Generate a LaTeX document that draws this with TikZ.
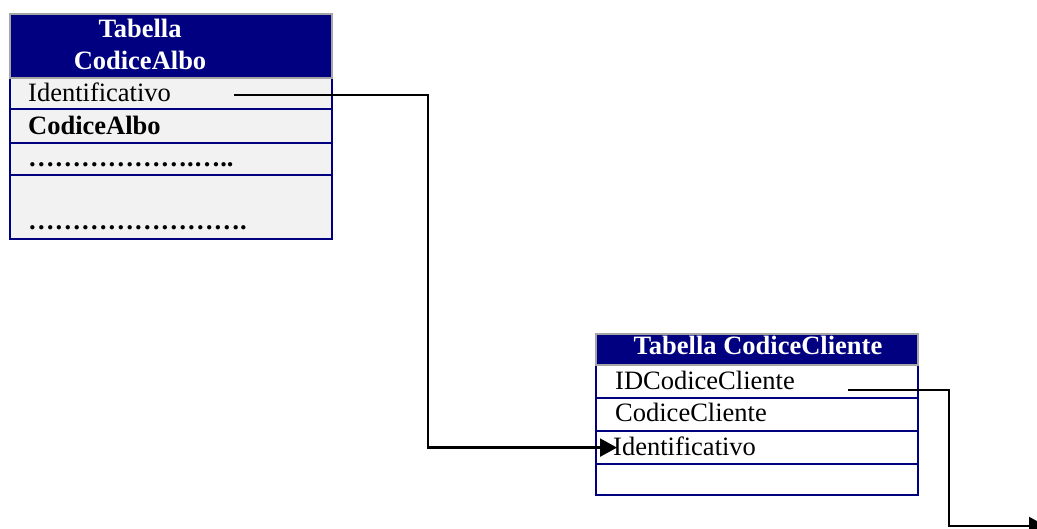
\documentclass[tikz,border=0pt]{standalone}
\usepackage{fontspec}
\setmainfont{Liberation Serif}
\usetikzlibrary{calc,arrows.meta}
\definecolor{navy}{RGB}{0,0,128}
\definecolor{rowgray}{RGB}{242,242,242}
\definecolor{hdrborder}{RGB}{165,165,165}
\def\el{…}
\begin{document}
\begin{tikzpicture}[x=1pt,y=-1pt,
  hdr/.style={draw=hdrborder, line width=2pt, fill=navy, anchor=north west, inner sep=0pt, minimum width=322pt},
  row/.style={draw=navy, line width=2.2pt, anchor=north west, inner sep=0pt, minimum width=322pt},
  txt/.style={anchor=base west, inner sep=0pt, font=\fontsize{26.5}{32}\selectfont},
  btxt/.style={txt, font=\fontsize{26.5}{32}\selectfont\bfseries},
  htxt/.style={anchor=base, text=white, inner sep=0pt, font=\fontsize{26.5}{32}\selectfont\bfseries},
  conn/.style={draw=black, line width=2.2pt},
  tipped/.style={-{Triangle[length=17pt,width=18pt]}}
]
\useasboundingbox (0,0) rectangle (1037,529);

% Table CodiceAlbo
\node[row, fill=rowgray, minimum height=31pt] (a1) at (9,77) {};
\node[row, fill=rowgray, minimum height=34pt] (a2) at (9,108) {};
\node[row, fill=rowgray, minimum height=32pt] (a3) at (9,142) {};
\node[row, fill=rowgray, minimum height=64pt] (a4) at (9,174) {};
\node[hdr, minimum height=64pt] (a0) at (9,13) {};
\node[htxt] (a0t1) at (140,38) {Tabella};
\node[htxt] (a0t2) at (140,70) {CodiceAlbo};
\node[txt] (a1t) at (28,102) {Identificativo};
\node[btxt] (a2t) at (28,135) {CodiceAlbo};
\node[btxt] (a3t) at (28,167) {\el\el\el\el\el\el.\el..};
\node[btxt] (a4t) at (28,230) {\el\el\el\el\el\el\el\el.};

% Table CodiceCliente
\node[row, fill=white, minimum height=33pt] (b1) at (595,364) {};
\node[row, fill=white, minimum height=33pt] (b2) at (595,397) {};
\node[row, fill=white, minimum height=33pt] (b3) at (595,430) {};
\node[row, fill=white, minimum height=31pt] (b4) at (595,463) {};
\node[hdr, minimum height=31pt] (b0) at (595,333) {};
\node[htxt] (b0t) at (758,355) {Tabella CodiceCliente};
\node[txt] (b1t) at (615,390) {IDCodiceCliente};
\node[txt] (b2t) at (615,422) {CodiceCliente};
\node[txt] (b3t) at (613,455) {Identificativo};

% connectors
\coordinate (s1) at ($(a1.south west)+(225,-15)$);
\coordinate (k1) at (428,270);
\coordinate (e1) at ($(b3.west)+(22,0)$);
\draw[conn,tipped] (s1) -| (k1) |- (e1);

\coordinate (s2) at ($(b1.south west)+(253,-9)$);
\coordinate (k2) at (949,450);
\coordinate (e2) at (1046,526);
\draw[conn,tipped] (s2) -| (k2) |- (e2);
\end{tikzpicture}
\end{document}
